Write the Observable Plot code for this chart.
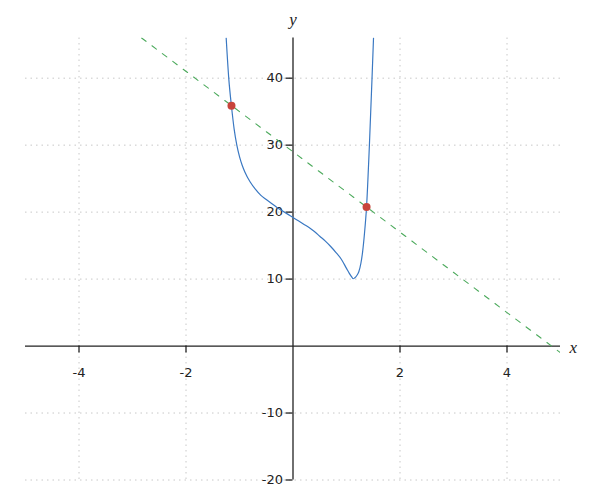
<!DOCTYPE html>
<html>
<head>
<meta charset="utf-8">
<script src="https://cdn.jsdelivr.net/npm/d3@7"></script>
<script src="https://cdn.jsdelivr.net/npm/@observablehq/plot@0.6"></script>
<style>
  html, body { margin: 0; padding: 0; background: #fff; }
  #chart svg { display: block; }
</style>
</head>
<body>
<div id="chart"></div>
<script>
// Tick values
const xTicks = [-4, -2, 2, 4];
const yTicks = [-20, -10, 10, 20, 30, 40];

// Blue curve
const curveX = [-1.249, -1.2, -1.15, -1.1, -1.05, -1.0, -0.95, -0.9, -0.8, -0.7, -0.6, -0.5, -0.4, -0.3, -0.2, -0.1, 0, 0.1, 0.2, 0.3, 0.4, 0.5, 0.6, 0.7, 0.8, 0.9, 1.0, 1.05, 1.1, 1.125, 1.15, 1.19, 1.23, 1.27, 1.3, 1.336, 1.374, 1.428, 1.477, 1.505];
const curveY = [46.0, 39.9, 35.8, 32.4, 30.0, 28.3, 27.0, 26.0, 24.5, 23.4, 22.5, 21.9, 21.3, 20.7, 20.2, 19.7, 19.2, 18.7, 18.2, 17.7, 17.1, 16.4, 15.7, 14.9, 14.0, 13.0, 11.6, 10.9, 10.3, 10.05, 10.15, 10.5, 11.1, 12.4, 14.0, 16.8, 20.7, 30.0, 40.0, 46.0];

// Green dashed line endpoints
const lineX = [-2.83, 5];
const lineY = [46, -1];

// Red intersection points
const pointX = [-1.15, 1.375];
const pointY = [35.9, 20.75];

const curve = curveX.map((x, i) => ({x, y: curveY[i]}));
const straight = lineX.map((x, i) => ({x, y: lineY[i]}));
const points = pointX.map((x, i) => ({x, y: pointY[i]}));

const tickFmt = d => String(d);
const grid = "#c8c8c8";
const ink = "#222";

const chart = Plot.plot({
  width: 600,
  height: 500,
  marginLeft: 25,
  marginRight: 40,
  marginTop: 37.5,
  marginBottom: 20.5,
  style: {fontFamily: "'DejaVu Sans', sans-serif", fontSize: "13px", background: "#fff"},
  x: {domain: [-5, 5], axis: null},
  y: {domain: [-20, 46], axis: null},
  marks: [
    // grid
    Plot.ruleX(xTicks, {x: d => d, stroke: grid, strokeDasharray: "1.5,4"}),
    Plot.ruleY(yTicks, {y: d => d, stroke: grid, strokeDasharray: "1.5,4"}),
    // axis lines
    Plot.ruleY([0], {y: d => d, stroke: ink, strokeWidth: 1.3}),
    Plot.ruleX([0], {x: d => d, stroke: ink, strokeWidth: 1.3}),
    // ticks
    Plot.ruleX(xTicks, {x: d => d, y1: () => 0, y2: () => 0, insetBottom: -7, stroke: ink, strokeWidth: 1.3}),
    Plot.ruleY(yTicks, {y: d => d, x1: () => 0, x2: () => 0, insetLeft: -7, stroke: ink, strokeWidth: 1.3}),
    // tick labels
    Plot.text(xTicks, {x: d => d, y: () => 0, dy: 27, text: tickFmt, fill: ink, fontSize: 13, lineAnchor: "middle"}),
    Plot.text(yTicks, {x: () => 0, y: d => d, dx: -10, text: tickFmt, fill: ink, fontSize: 13, textAnchor: "end", lineAnchor: "middle"}),
    // axis names
    Plot.text(["x"], {x: () => 5, y: () => 0, dx: 9, dy: 1.5, text: d => d, textAnchor: "start", lineAnchor: "middle", fontFamily: "'Liberation Serif', serif", fontStyle: "italic", fontSize: 17, fill: ink}),
    Plot.text(["y"], {x: () => 0, y: () => 46, dy: -13, text: d => d, textAnchor: "middle", lineAnchor: "bottom", fontFamily: "'Liberation Serif', serif", fontStyle: "italic", fontSize: 17, fill: ink}),
    // data
    Plot.line(straight, {x: "x", y: "y", stroke: "#4caa5c", strokeWidth: 1.1, strokeDasharray: "5.5,7.5", clip: true}),
    Plot.line(curve, {x: "x", y: "y", stroke: "#3a78c2", strokeWidth: 1.2, curve: "monotone-x", clip: true}),
    Plot.dot(points, {x: "x", y: "y", r: 4, fill: "#c8443b", stroke: "none"})
  ]
});
document.getElementById("chart").appendChild(chart);
</script>
</body>
</html>
